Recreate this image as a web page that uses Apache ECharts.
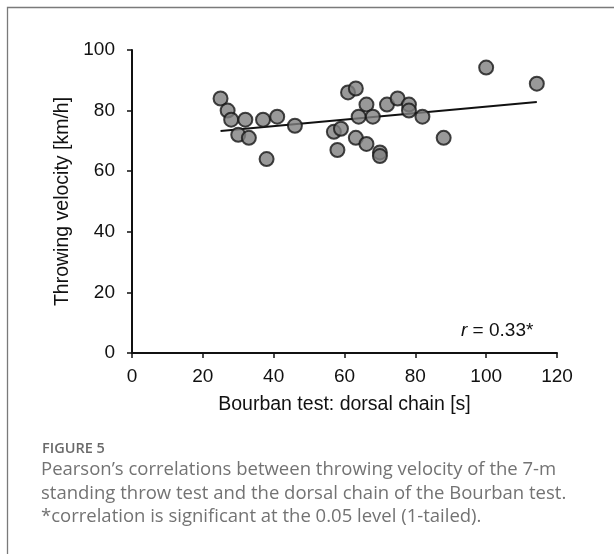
<!DOCTYPE html>
<html>
<head>
<meta charset="utf-8">
<script src="https://cdn.jsdelivr.net/npm/echarts@6/dist/echarts.min.js"></script>
<style>
html,body{margin:0;padding:0;background:#fff;}
#c{width:614px;height:554px;}
</style>
</head>
<body>
<div id="c"></div>
<script>
// Data
const dorsalChain = [25, 27, 28, 30, 32, 33, 37, 38, 41, 46, 57, 58, 59, 61, 63.2, 63.2, 64, 66.2, 66.2, 68, 70, 70, 72, 75, 78.2, 78.2, 82, 88, 100, 114.3];
const velocity    = [84, 80, 77, 72, 77, 71, 77, 64, 78, 75, 73, 67, 74, 86, 87.3, 71, 78, 82, 69, 78, 66.2, 65, 82, 84, 82, 80, 78, 71, 94.2, 88.9];
const trendLine = [[25, 73.3], [114.3, 82.8]];
const xTicks = [0, 20, 40, 60, 80, 100, 120];
const yTicks = [0, 20, 40, 60, 80, 100];

const points = dorsalChain.map((x, i) => [x, velocity[i]]);
const chartFont = 'Liberation Sans, Arial, sans-serif';

const chart = echarts.init(document.getElementById('c'), null, {renderer: 'canvas'});
chart.setOption({
  animation: false,
  backgroundColor: '#fff',
  grid: {left: 132, top: 50, width: 425, height: 303, containLabel: false},
  xAxis: {
    type: 'value', min: xTicks[0], max: xTicks[xTicks.length - 1], interval: 20,
    name: 'Bourban test: dorsal chain [s]',
    nameLocation: 'middle', nameGap: 42,
    nameTextStyle: {fontFamily: chartFont, fontSize: 19.5, color: '#111'},
    axisLine: {lineStyle: {color: '#111', width: 2}},
    axisTick: {show: true, length: 5, lineStyle: {color: '#111', width: 1.5}},
    axisLabel: {fontFamily: chartFont, fontSize: 19, color: '#111', margin: 14},
    splitLine: {show: false}
  },
  yAxis: {
    type: 'value', min: yTicks[0], max: yTicks[yTicks.length - 1], interval: 20,
    name: 'Throwing velocity [km/h]',
    nameLocation: 'middle', nameGap: 56, nameRotate: 90,
    nameTextStyle: {fontFamily: chartFont, fontSize: 19.5, color: '#111'},
    axisLine: {show: true, lineStyle: {color: '#111', width: 2}},
    axisTick: {show: true, length: 5, lineStyle: {color: '#111', width: 1.5}},
    axisLabel: {fontFamily: chartFont, fontSize: 19, color: '#111', margin: 17},
    splitLine: {show: false}
  },
  series: [
    {
      type: 'line', data: trendLine, symbol: 'none',
      lineStyle: {color: '#111', width: 2}, z: 2, silent: true
    },
    {
      type: 'scatter', data: points, symbol: 'circle', symbolSize: 14,
      itemStyle: {color: '#808080', borderColor: '#161616', borderWidth: 2}, z: 3
    }
  ],
  graphic: [
    {type: 'rect', shape: {x: 7.5, y: 7.5, width: 640, height: 600},
     style: {fill: null, stroke: '#7a7a7a', lineWidth: 1.3}, silent: true},
    {type: 'text', left: 461, top: 321,
     style: {text: '{i|r} = 0.33*', rich: {i: {fontStyle: 'italic', fontFamily: chartFont, fontSize: 19, fill: '#111'}},
             fontFamily: chartFont, fontSize: 19, fill: '#111'}},
    {type: 'text', left: 42, top: 441,
     style: {text: 'FIGURE 5', fontFamily: 'Open Sans, sans-serif', fontSize: 14.5, fontWeight: 600, fill: '#6a6a6a'}},
    {type: 'text', left: 41, top: 458,
     style: {text: 'Pearson\u2019s correlations between throwing velocity of the 7-m\nstanding throw test and the dorsal chain of the Bourban test.\n*correlation is significant at the 0.05 level (1-tailed).',
             fontFamily: 'Open Sans, sans-serif', fontSize: 18.5, lineHeight: 23.5, fill: '#737373'}}
  ]
});
</script>
</body>
</html>
